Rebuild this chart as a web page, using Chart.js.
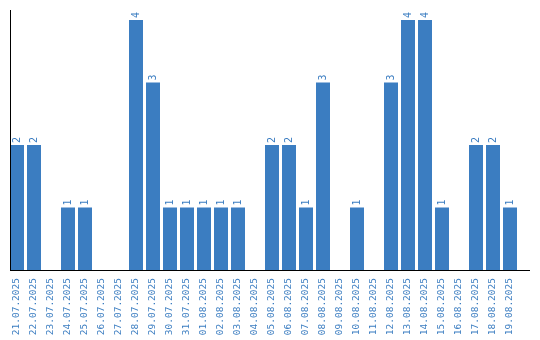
<!DOCTYPE html>
<html>
<head>
<script src="https://cdn.jsdelivr.net/npm/chart.js@4/dist/chart.umd.min.js"></script>
<style>
body { margin: 0; background: #ffffff; }
#wrap { width: 540px; height: 340px; }
</style>
</head>
<body>
<div id="wrap"><canvas id="myChart"></canvas></div>
<script>
var days = ['21.07.2025','22.07.2025','23.07.2025','24.07.2025','25.07.2025','26.07.2025','27.07.2025','28.07.2025','29.07.2025','30.07.2025',
            '31.07.2025','01.08.2025','02.08.2025','03.08.2025','04.08.2025','05.08.2025','06.08.2025','07.08.2025','08.08.2025','09.08.2025',
            '10.08.2025','11.08.2025','12.08.2025','13.08.2025','14.08.2025','15.08.2025','16.08.2025','17.08.2025','18.08.2025','19.08.2025'];
var counts = [2,2,0,1,1,0,0,4,3,1, 1,1,1,1,0,2,2,1,3,0, 1,0,3,4,4,1,0,2,2,1];

var blue = '#3b7dc1';
var font = 'DejaVu Sans Mono';

// value above each bar, rotated like the tick labels; axis lines
var extras = {
  id: 'extras',
  afterDatasetsDraw: function (chart) {
    var ctx = chart.ctx;
    var meta = chart.getDatasetMeta(0);
    ctx.save();
    ctx.fillStyle = blue;
    ctx.font = '10px ' + font;
    ctx.textAlign = 'left';
    ctx.textBaseline = 'middle';
    meta.data.forEach(function (bar, i) {
      if (!counts[i]) return;
      ctx.save();
      ctx.translate(bar.x, bar.y - 2);
      ctx.rotate(-Math.PI / 2);
      ctx.fillText(String(counts[i]), 0, 0);
      ctx.restore();
    });
    var a = chart.chartArea;
    ctx.strokeStyle = '#000000';
    ctx.lineWidth = 1;
    ctx.beginPath();
    ctx.moveTo(10.5, a.top);
    ctx.lineTo(10.5, a.bottom);
    ctx.moveTo(10, a.bottom + 0.5);
    ctx.lineTo(530, a.bottom + 0.5);
    ctx.stroke();
    ctx.restore();
  }
};

var chart = new Chart(document.getElementById('myChart'), {
  type: 'bar',
  data: {
    labels: days,
    datasets: [{ data: counts, backgroundColor: blue, barPercentage: 14 / 17, categoryPercentage: 1 }]
  },
  options: {
    responsive: true,
    maintainAspectRatio: false,
    animation: false,
    layout: { padding: { left: 8.5, right: 21.5, top: 10, bottom: 0 } },
    plugins: { legend: { display: false }, tooltip: { enabled: false } },
    scales: {
      x: {
        grid: { display: false },
        border: { display: false },
        ticks: { color: blue, font: { family: font, size: 9.5 }, minRotation: 90, maxRotation: 90, autoSkip: false, padding: 0 },
        afterFit: function (scale) { scale.height = 70; }
      },
      y: { display: false, min: 0, max: 4.16 }
    }
  },
  plugins: [extras]
});
</script>
</body>
</html>
